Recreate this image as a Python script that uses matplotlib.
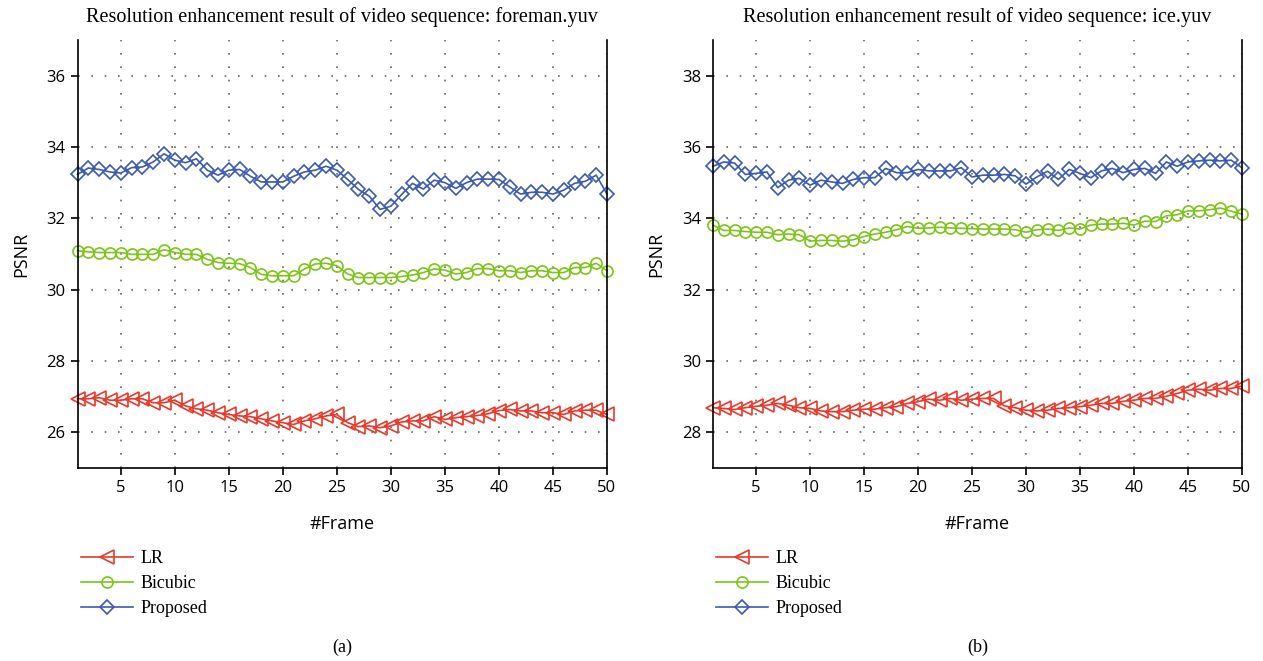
import matplotlib
matplotlib.use('Agg')
import matplotlib.pyplot as plt
import numpy as np

frames = list(range(1, 51))

# foreman.yuv
fore_lr = [26.94, 26.94, 26.97, 26.90, 26.90, 26.94, 26.94, 26.83, 26.83, 26.90,
           26.74, 26.66, 26.62, 26.55, 26.50, 26.46, 26.44, 26.38, 26.32, 26.27,
           26.22, 26.32, 26.38, 26.46, 26.50, 26.27, 26.16, 26.18, 26.13, 26.18,
           26.29, 26.32, 26.32, 26.44, 26.36, 26.41, 26.44, 26.47, 26.52, 26.61,
           26.64, 26.60, 26.60, 26.55, 26.55, 26.50, 26.60, 26.62, 26.62, 26.50]
fore_bic = [31.09, 31.06, 31.04, 31.04, 31.04, 30.99, 30.99, 30.99, 31.12, 31.04,
            30.99, 30.99, 30.85, 30.76, 30.74, 30.73, 30.62, 30.43, 30.39, 30.39,
            30.39, 30.58, 30.72, 30.74, 30.67, 30.44, 30.34, 30.34, 30.34, 30.34,
            30.37, 30.41, 30.48, 30.58, 30.55, 30.44, 30.48, 30.59, 30.59, 30.53,
            30.53, 30.48, 30.53, 30.53, 30.48, 30.48, 30.62, 30.62, 30.74, 30.53]
fore_prop = [33.23, 33.41, 33.37, 33.30, 33.27, 33.42, 33.44, 33.58, 33.81, 33.63,
             33.56, 33.67, 33.35, 33.21, 33.35, 33.37, 33.18, 33.02, 33.02, 33.02,
             33.18, 33.30, 33.35, 33.46, 33.35, 33.09, 32.81, 32.62, 32.25, 32.34,
             32.67, 32.98, 32.82, 33.07, 33.00, 32.84, 33.00, 33.10, 33.10, 33.09,
             32.88, 32.68, 32.73, 32.73, 32.68, 32.79, 32.98, 33.04, 33.21, 32.68]

# ice.yuv
ice_lr = [28.69, 28.67, 28.64, 28.69, 28.73, 28.76, 28.81, 28.76, 28.69, 28.67,
          28.60, 28.58, 28.58, 28.62, 28.65, 28.65, 28.69, 28.72, 28.81, 28.86,
          28.93, 28.90, 28.95, 28.90, 28.93, 28.95, 28.95, 28.74, 28.69, 28.62,
          28.60, 28.62, 28.67, 28.69, 28.72, 28.76, 28.81, 28.81, 28.87, 28.90,
          28.95, 28.95, 29.01, 29.09, 29.18, 29.21, 29.18, 29.23, 29.23, 29.30]
ice_bic = [33.81, 33.66, 33.66, 33.63, 33.61, 33.61, 33.54, 33.56, 33.54, 33.36,
           33.38, 33.38, 33.36, 33.40, 33.49, 33.56, 33.61, 33.68, 33.77, 33.72,
           33.73, 33.75, 33.73, 33.72, 33.71, 33.70, 33.70, 33.70, 33.68, 33.61,
           33.68, 33.70, 33.66, 33.73, 33.70, 33.81, 33.84, 33.84, 33.86, 33.81,
           33.92, 33.91, 34.07, 34.10, 34.21, 34.21, 34.24, 34.29, 34.20, 34.12]
ice_prop = [35.46, 35.58, 35.55, 35.23, 35.26, 35.30, 34.86, 35.07, 35.12, 34.93,
            35.07, 35.02, 34.98, 35.09, 35.14, 35.14, 35.40, 35.28, 35.28, 35.37,
            35.33, 35.33, 35.33, 35.42, 35.16, 35.21, 35.21, 35.23, 35.19, 34.96,
            35.16, 35.32, 35.09, 35.37, 35.26, 35.14, 35.33, 35.40, 35.28, 35.37,
            35.40, 35.26, 35.58, 35.46, 35.58, 35.61, 35.63, 35.61, 35.63, 35.42]

red = '#e8392b'
green = '#7cc41a'
blue = '#3b5bb0'
serif = 'Liberation Serif'
sans = 'Open Sans'

fig = plt.figure(figsize=(12.63, 6.61), dpi=100)
ax1 = fig.add_axes([0.0614, 0.292, 0.4192, 0.6475])
ax2 = fig.add_axes([0.5645, 0.292, 0.4188, 0.6475])


def draw(ax, lr, bic, prop, ylim, yticks, title, cap):
	ax.plot(frames, lr, color=red, marker='<', ms=10, mfc='none', mew=1.2, lw=1.2, label='LR', clip_on=False)
	ax.plot(frames, bic, color=green, marker='o', ms=8, mfc='none', mew=1.2, lw=1.2, label='Bicubic', clip_on=False)
	ax.plot(frames, prop, color=blue, marker='D', ms=7, mfc='none', mew=1.2, lw=1.2, label='Proposed', clip_on=False)
	ax.set_xlim(1, 50)
	ax.set_ylim(*ylim)
	ax.set_xticks([5, 10, 15, 20, 25, 30, 35, 40, 45, 50])
	ax.set_yticks(yticks)
	ax.grid(True, color='#666666', linestyle=(0, (1, 7)), linewidth=1.2)
	ax.spines['top'].set_visible(False)
	for s in ['left', 'right', 'bottom']:
		ax.spines[s].set_linewidth(1.2)
	ax.tick_params(direction='out', length=5, width=1.2, labelsize=12, right=False)
	for lab in ax.get_xticklabels() + ax.get_yticklabels():
		lab.set_family(sans)
	ax.set_xlabel('#Frame', fontsize=13, family=sans, labelpad=14)
	ax.set_ylabel('PSNR', fontsize=13, family=sans, labelpad=12)
	ax.set_title(title, fontsize=14.5, family=serif, pad=13)
	ax.legend(loc='upper left', bbox_to_anchor=(-0.008, -0.175), frameon=False,
			  prop={'family': serif, 'size': 13}, handlelength=2.9, labelspacing=0.45,
			  handletextpad=0.4, borderaxespad=0)
	ax.text(0.5, -0.418, cap, transform=ax.transAxes, ha='center', va='center',
			fontsize=13, family=serif)


draw(ax1, fore_lr, fore_bic, fore_prop, (25, 37), [26, 28, 30, 32, 34, 36],
	 'Resolution enhancement result of video sequence: foreman.yuv', '(a)')
draw(ax2, ice_lr, ice_bic, ice_prop, (27, 39), [28, 30, 32, 34, 36, 38],
	 'Resolution enhancement result of video sequence: ice.yuv', '(b)')

plt.savefig('out.png', dpi=100)
plt.close()
